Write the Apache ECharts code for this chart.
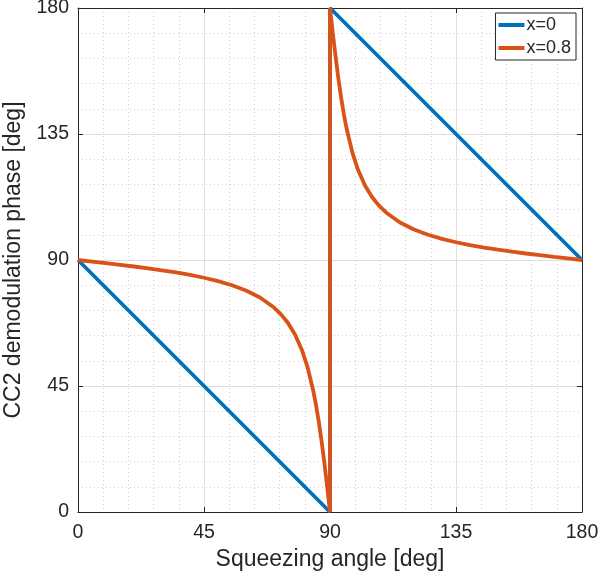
<!DOCTYPE html>
<html>
<head>
<meta charset="utf-8">
<script src="https://cdn.jsdelivr.net/npm/echarts@6/dist/echarts.min.js"></script>
<style>
html,body{margin:0;padding:0;background:#fff;}
#chart{width:599px;height:579px;}
</style>
</head>
<body>
<div id="chart"></div>
<script>
// ---- data ----
const xTicks = [0, 45, 90, 135, 180];
const yTicks = [0, 45, 90, 135, 180];
const seriesNames = ['x=0', 'x=0.8'];

// x=0 : squeezing angle / phase
const angle0 = [0, 90, 90, 180];
const phase0 = [90, 0, 180, 90];

// x=0.8 : squeezing angle / phase
const angle08 = [0, 5, 10, 15, 20, 25, 30, 35, 40, 45, 50, 55, 60, 65, 70, 72.5, 75, 77.5, 80, 82, 84, 85, 86, 87, 88, 89, 89.5, 90,
                 90, 90.5, 91, 92, 93, 94, 95, 96, 98, 100, 102.5, 105, 107.5, 110, 115, 120, 125, 130, 135, 140, 145, 150, 155, 160, 165, 170, 175, 180];
const phase08 = [90, 89.44, 88.88, 88.29, 87.68, 87.03, 86.33, 85.55, 84.67, 83.66, 82.46, 80.98, 79.11, 76.60, 73.02, 70.59, 67.48, 63.38, 57.78, 51.67, 43.41, 38.22, 32.18, 25.27, 17.45, 8.93, 4.49, 0,
                 180, 175.51, 171.07, 162.55, 154.73, 147.82, 141.78, 136.59, 128.33, 122.22, 116.62, 112.52, 109.41, 106.98, 103.40, 100.89, 99.02, 97.54, 96.34, 95.33, 94.45, 93.67, 92.97, 92.32, 91.71, 91.12, 90.56, 90];

const zip = (a, b) => a.map((v, i) => [v, b[i]]);

const FONT = '"Liberation Sans", Arial, Helvetica, sans-serif';
const TXT = '#262626';
const BLUE = '#0072BD';
const ORANGE = '#D95319';

const chart = echarts.init(document.getElementById('chart'), null, {renderer: 'canvas'});

function mkAxis(pos, ticks, showLabels, name) {
  const ax = {
    type: 'value',
    position: pos,
    min: ticks[0],
    max: ticks[ticks.length - 1],
    interval: ticks[1] - ticks[0],
    axisLine: {show: true, onZero: false, lineStyle: {color: TXT, width: 1}},
    axisTick: {show: true, inside: true, length: 5, lineStyle: {color: TXT, width: 1}},
    axisLabel: {show: showLabels, color: TXT, fontSize: 19.5, fontFamily: FONT},
    splitLine: {show: showLabels, lineStyle: {color: '#dedede', width: 1}},
    minorTick: {show: false, splitNumber: 5},
    minorSplitLine: {show: showLabels, lineStyle: {color: '#d0d0d0', width: 1, type: [1, 3]}}
  };
  if (name) {
    ax.name = name;
    ax.nameLocation = 'middle';
    ax.nameTextStyle = {color: TXT, fontSize: 23, fontFamily: FONT};
  }
  return ax;
}

const xMain = mkAxis('bottom', xTicks, true, 'Squeezing angle [deg]');
xMain.nameGap = 33;
xMain.axisLabel.margin = 11;
const yMain = mkAxis('left', yTicks, true, 'CC2 demodulation phase [deg]');
yMain.nameGap = 37;
yMain.axisLabel.margin = 9;
const xTop = mkAxis('top', xTicks, false);
const yRight = mkAxis('right', yTicks, false);

chart.setOption({
  animation: false,
  backgroundColor: '#ffffff',
  grid: {left: 78, right: 17, top: 8, bottom: 67, containLabel: false, outerBoundsMode: 'none'},
  legend: {
    orient: 'vertical',
    right: 23,
    top: 13,
    data: [
      {name: seriesNames[0], icon: 'rect', itemStyle: {color: BLUE}},
      {name: seriesNames[1], icon: 'rect', itemStyle: {color: ORANGE}}
    ],
    backgroundColor: '#ffffff',
    borderColor: TXT,
    borderWidth: 1,
    padding: [3, 5, 3, 3],
    itemGap: 5,
    itemWidth: 26,
    itemHeight: 4,
    textStyle: {color: TXT, fontSize: 18, fontFamily: FONT, padding: [0, 0, 0, -3]}
  },
  xAxis: [xMain, xTop],
  yAxis: [yMain, yRight],
  series: [
    {
      name: seriesNames[0], type: 'line', xAxisIndex: 0, yAxisIndex: 0,
      data: zip(angle0, phase0), symbol: 'none', showSymbol: false,
      lineStyle: {color: BLUE, width: 3.8}, itemStyle: {color: BLUE}, z: 3
    },
    {
      name: seriesNames[1], type: 'line', xAxisIndex: 0, yAxisIndex: 0,
      data: zip(angle08, phase08), symbol: 'none', showSymbol: false,
      lineStyle: {color: ORANGE, width: 3.8}, itemStyle: {color: ORANGE}, z: 4
    }
  ]
});
</script>
</body>
</html>
